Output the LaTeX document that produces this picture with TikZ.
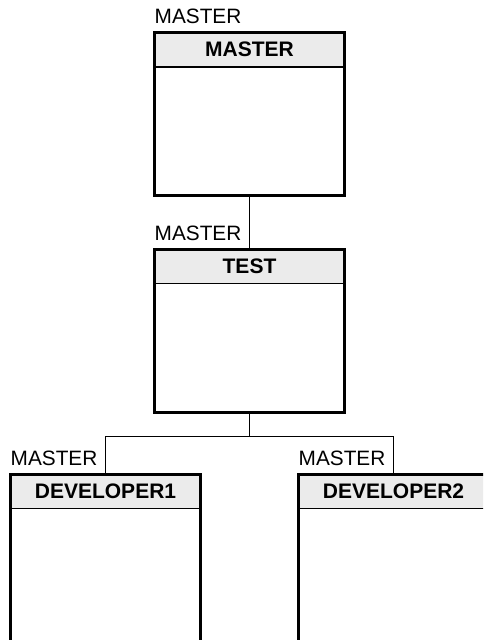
\documentclass[tikz,border=0pt]{standalone}
\usepackage{fontspec}
\setmainfont{Liberation Sans}
\usetikzlibrary{positioning,trees}
\definecolor{headgray}{RGB}{235,235,235}

\tikzset{
  branch/.style={draw, line width=2.8pt, anchor=north, outer sep=0pt,
    minimum width=190pt, minimum height=163pt,
    path picture={
      \fill[headgray] (path picture bounding box.north west) rectangle ([yshift=-34.5pt]path picture bounding box.north east);
      \draw[line width=1.2pt] ([yshift=-34.5pt]path picture bounding box.north west) -- ([yshift=-34.5pt]path picture bounding box.north east);
    }},
  tag/.style={anchor=south west, inner sep=0pt, yshift=8.5pt, font=\fontsize{20.8}{25}\selectfont},
  headtext/.style={anchor=center, inner sep=0pt, yshift=-17pt, font=\fontsize{21}{25}\selectfont\bfseries},
}

\begin{document}
\begin{tikzpicture}[
    edge from parent/.style={draw, line width=1.2pt},
    level 1/.style={level distance=135.4pt},
    level 2/.style={level distance=143.4pt, sibling distance=288pt,
      edge from parent path={(\tikzparentnode.south) -- ++(0,-24.4pt) -| (\tikzchildnode.north)}}]
  \useasboundingbox (0,0) rectangle (483pt,-640pt);
  \clip (0,0) rectangle (483pt,-640pt);
  \node (master) [branch, label={[tag]north west:MASTER}, label={[headtext]north:MASTER}] at (249.5pt,-32.4pt) {}
    child {node (test) [branch, label={[tag]north west:MASTER}, label={[headtext]north:TEST}] {}
      child {node (dev1) [branch, minimum height=200pt, label={[tag]north west:MASTER}, label={[headtext]north:DEVELOPER1}] {}}
      child {node (dev2) [branch, minimum height=200pt, label={[tag]north west:MASTER}, label={[headtext]north:DEVELOPER2}] {}}
    };
\end{tikzpicture}
\end{document}
